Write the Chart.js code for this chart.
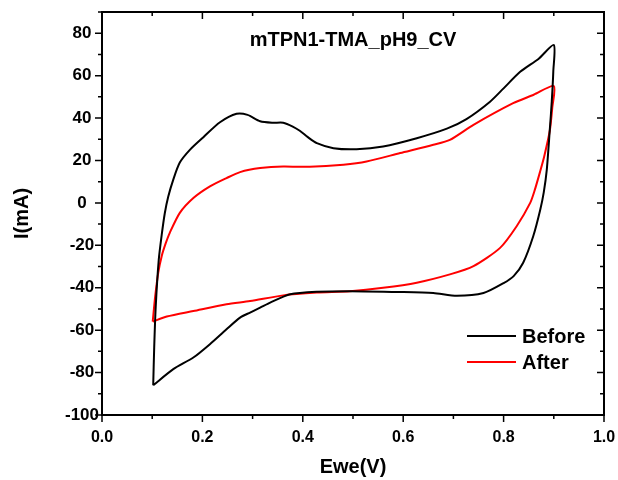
<!DOCTYPE html>
<html>
<head>
<meta charset="utf-8">
<script src="https://cdn.jsdelivr.net/npm/chart.js@4.4.1/dist/chart.umd.min.js"></script>
<style>
  html, body { margin: 0; padding: 0; background: #fff; }
  #wrap { width: 618px; height: 480px; }
</style>
</head>
<body>
<div id="wrap"><canvas id="cv" width="618" height="480"></canvas></div>
<script>
// CV loop (E in V, I in mA), in scan order
const beforeE = [0.102, 0.104, 0.107, 0.113, 0.119, 0.125, 0.132, 0.142, 0.155, 0.175, 0.202, 0.235, 0.268, 0.29, 0.315, 0.34, 0.361, 0.38, 0.394, 0.41, 0.428, 0.461, 0.507, 0.56, 0.627, 0.687, 0.726, 0.773, 0.80, 0.833, 0.87, 0.900,
  0.899, 0.896, 0.892, 0.886, 0.880, 0.873, 0.859, 0.839, 0.82, 0.80, 0.76, 0.707, 0.66, 0.594, 0.494, 0.428, 0.375, 0.335, 0.315, 0.295, 0.275, 0.248, 0.215, 0.182, 0.142, 0.102];
const beforeI = [-86, -68, -49, -27, -15, -5, 3, 11, 19, 25, 31, 38, 42, 41.5, 38.5, 37.8, 37.8, 36, 34, 31, 28.2, 25.8, 25.3, 26.6, 30.5, 35, 39.5, 47.7, 54, 61.8, 68, 74.4,
  62, 48, 34.4, 15.6, 5, -3.2, -15.7, -28.2, -34.5, -37.8, -42.5, -43.8, -42.5, -42, -41.6, -41.9, -43.1, -47, -49.4, -51.7, -54.1, -59.6, -66.6, -72.9, -78.4, -86];

const afterE = [0.101, 0.106, 0.112, 0.119, 0.127, 0.135, 0.155, 0.182, 0.215, 0.248, 0.275, 0.315, 0.361, 0.414, 0.481, 0.527, 0.594, 0.66, 0.693, 0.74, 0.819, 0.86, 0.900,
  0.897, 0.892, 0.881, 0.873, 0.862, 0.853, 0.826, 0.793, 0.74, 0.693, 0.627, 0.56, 0.494, 0.428, 0.361, 0.295, 0.248, 0.182, 0.129, 0.101];
const afterI = [-56, -44, -33, -25, -19, -14.1, -4.7, 2.3, 7.8, 11.7, 14.5, 16.4, 17.2, 17, 18, 19.5, 23.5, 27.4, 29.7, 36.8, 47, 51, 55.1,
  45, 34, 22, 15, 6, 0, -11, -21.2, -29.8, -33.7, -37.6, -40, -41.6, -42.3, -43.6, -46.3, -47.8, -51, -53.6, -56];

const seriesNames = ['Before', 'After'];
const seriesColors = ['#000000', '#ff0000'];
const chartTitle = 'mTPN1-TMA_pH9_CV';

function toPoints(xs, ys) {
  return xs.map((x, i) => ({ x: x, y: ys[i] }));
}

const FONT = '"Liberation Sans", Arial, sans-serif';

// frame, in/out ticks, title and inside legend
const decorations = {
  id: 'decorations',
  afterDraw(chart) {
    const ctx = chart.ctx;
    const a = chart.chartArea;
    const xs = chart.scales.x;
    const ys = chart.scales.y;
    ctx.save();
    ctx.strokeStyle = '#000';
    ctx.lineWidth = 2;
    ctx.strokeRect(a.left, a.top, a.right - a.left, a.bottom - a.top);

    ctx.lineWidth = 1.5;
    ctx.beginPath();
    for (let k = 0; k <= 10; k++) {
      const px = xs.getPixelForValue(k / 10);
      const len = k % 2 === 0 ? 7 : 4;
      ctx.moveTo(px, a.bottom); ctx.lineTo(px, a.bottom + len);
      ctx.moveTo(px, a.top); ctx.lineTo(px, a.top + len);
    }
    for (let v = -100; v <= 90; v += 10) {
      const py = ys.getPixelForValue(v);
      const len = v % 20 === 0 ? 7 : 4;
      ctx.moveTo(a.left, py); ctx.lineTo(a.left - len, py);
      ctx.moveTo(a.right, py); ctx.lineTo(a.right - len, py);
    }
    ctx.stroke();

    ctx.fillStyle = '#000';
    ctx.font = 'bold 20px ' + FONT;
    ctx.textAlign = 'center';
    ctx.textBaseline = 'middle';
    ctx.fillText(chartTitle, (a.left + a.right) / 2, a.top + 28);

    ctx.font = 'bold 20px ' + FONT;
    ctx.textAlign = 'left';
    const rows = [336, 362];
    seriesNames.forEach((name, i) => {
      ctx.strokeStyle = seriesColors[i];
      ctx.lineWidth = 2;
      ctx.beginPath();
      ctx.moveTo(467, rows[i]);
      ctx.lineTo(516, rows[i]);
      ctx.stroke();
      ctx.fillText(name, 522, rows[i] + 1);
    });
    ctx.restore();
  }
};

new Chart(document.getElementById('cv'), {
  type: 'scatter',
  data: {
    datasets: [
      {
        label: seriesNames[0],
        data: toPoints(beforeE, beforeI),
        showLine: true,
        borderColor: seriesColors[0],
        borderWidth: 2,
        pointRadius: 0,
        tension: 0.25
      },
      {
        label: seriesNames[1],
        data: toPoints(afterE, afterI),
        showLine: true,
        borderColor: seriesColors[1],
        borderWidth: 2,
        pointRadius: 0,
        tension: 0.25
      }
    ]
  },
  options: {
    responsive: false,
    animation: false,
    layout: { padding: { left: 0, right: 14, top: 12, bottom: 0 } },
    plugins: {
      legend: { display: false },
      tooltip: { enabled: false }
    },
    scales: {
      x: {
        type: 'linear',
        min: 0,
        max: 1,
        afterFit(scale) {
          scale.height = 65;
          scale.paddingLeft = 0;
          scale.paddingRight = 0;
        },
        grid: { display: false, drawTicks: false },
        border: { display: false },
        ticks: {
          stepSize: 0.1,
          padding: 13,
          color: '#000',
          font: { family: FONT, size: 16, weight: 'bold' },
          maxRotation: 0,
          autoSkip: false,
          callback: (v) => Math.round(v * 10) % 2 === 0 ? v.toFixed(1) : ''
        },
        title: {
          display: true,
          text: 'Ewe(V)',
          color: '#000',
          font: { family: FONT, size: 20, weight: 'bold' },
          padding: { top: 0, bottom: 1 }
        }
      },
      y: {
        type: 'linear',
        min: -100,
        max: 90,
        afterFit(scale) {
          scale.width = 102;
          scale.paddingTop = 0;
          scale.paddingBottom = 0;
        },
        grid: { display: false, drawTicks: false },
        border: { display: false },
        ticks: {
          stepSize: 10,
          padding: 3,
          crossAlign: 'center',
          color: '#000',
          font: { family: FONT, size: 17, weight: 'bold' },
          autoSkip: false,
          callback: (v) => v % 20 === 0 ? String(v) : ''
        },
        title: {
          display: true,
          text: 'I(mA)',
          color: '#000',
          font: { family: FONT, size: 20, weight: 'bold' },
          padding: { top: 10, bottom: 0 }
        }
      }
    }
  },
  plugins: [decorations]
});
</script>
</body>
</html>
